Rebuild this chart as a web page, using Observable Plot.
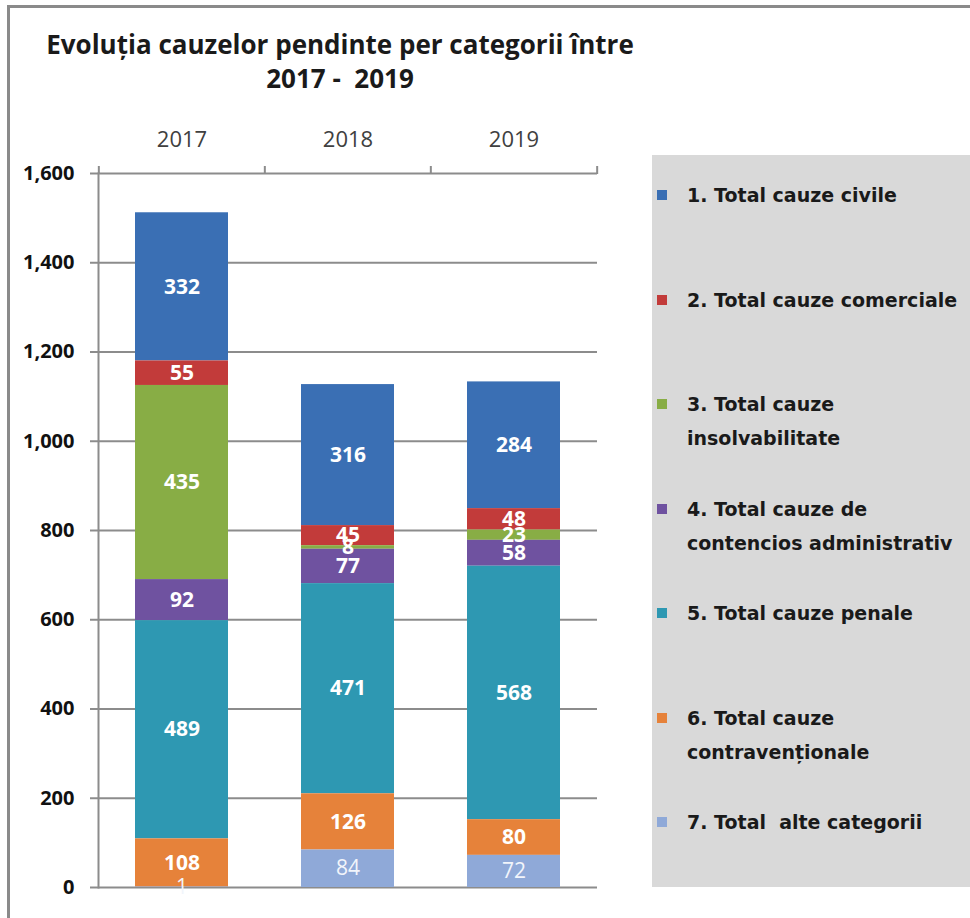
<!DOCTYPE html>
<html>
<head>
<meta charset="utf-8">
<script src="https://cdn.jsdelivr.net/npm/d3@7"></script>
<script src="https://cdn.jsdelivr.net/npm/@observablehq/plot@0.6"></script>
<style>
  html, body { margin: 0; padding: 0; background: #fff; }
  #wrap { position: relative; width: 970px; height: 918px; overflow: hidden; background: #fff; }
  #frame { position: absolute; left: 7px; top: 5px; width: 1000px; height: 1000px; border-left: 3px solid #8a8a8a; border-top: 3px solid #8a8a8a; box-sizing: border-box; pointer-events: none; }
  #title { position: absolute; left: 30px; width: 620px; top: 27px; text-align: center; font-family: "Open Sans", sans-serif; font-weight: 700; font-size: 26px; line-height: 34px; color: #1a1a1a; white-space: pre; }
  #chart { position: absolute; left: 0; top: 0; }
  #legend { position: absolute; left: 652px; top: 155px; width: 318px; height: 732px; background: #d9d9d9; box-sizing: border-box; padding-top: 23px; }
  .item { position: relative; height: 104.5px; font-family: "DejaVu Sans", sans-serif; font-weight: 700; font-size: 19px; line-height: 34px; color: #1a1a1a; padding-left: 35px; box-sizing: border-box; white-space: pre; }
  .sw { position: absolute; left: 5px; top: 12px; width: 10px; height: 10px; }
</style>
</head>
<body>
<div id="wrap">
  <div id="chart"></div>
  <div id="title"></div>
  <div id="legend"></div>
  <div id="frame"></div>
</div>
<script>
// ---- data ----
const years = ["2017", "2018", "2019"];
const categories = [
  "1. Total cauze civile",
  "2. Total cauze comerciale",
  "3. Total cauze insolvabilitate",
  "4. Total cauze de contencios administrativ",
  "5. Total cauze penale",
  "6. Total cauze contravenționale",
  "7. Total  alte categorii"
];
const legendLabels = [
  ["1. Total cauze civile"],
  ["2. Total cauze comerciale"],
  ["3. Total cauze", "insolvabilitate"],
  ["4. Total cauze de", "contencios administrativ"],
  ["5. Total cauze penale"],
  ["6. Total cauze", "contravenționale"],
  ["7. Total  alte categorii"]
];
const civile      = [332, 316, 284];
const comerciale  = [55, 45, 48];
const insolv      = [435, 8, 23];
const contencios  = [92, 77, 58];
const penale      = [489, 471, 568];
const contrav     = [108, 126, 80];
const alte        = [1, 84, 72];
const colors = ["#3a6fb4", "#c23b3a", "#88ad45", "#6f52a0", "#2e98b2", "#e6823a", "#8fa9d8"];
const yTicks = [0, 200, 400, 600, 800, 1000, 1200, 1400, 1600];
const titleLines = ["Evoluția cauzelor pendinte per categorii între", "2017 -  2019"];

// ---- build table ----
const seriesValues = [civile, comerciale, insolv, contencios, penale, contrav, alte];
const rows = [];
categories.forEach((c, i) => years.forEach((y, j) => rows.push({year: y, cat: c, value: seriesValues[i][j], idx: i})));
const stackOrder = categories.slice().reverse(); // bottom to top

// ---- layout ----
const W = 970, H = 918;
const mL = 98, mR = 373, mT = 173, mB = 31;
const step = (W - mL - mR) / years.length;
const font = "'Open Sans', sans-serif";
const stackOpts = {x: "year", y: "value", z: "cat", order: stackOrder};

const plot = Plot.plot({
  width: W, height: H,
  marginLeft: mL, marginRight: mR, marginTop: mT, marginBottom: mB,
  style: {fontFamily: font, background: "transparent", overflow: "visible"},
  x: {domain: years, paddingInner: 0.44, paddingOuter: 0.22},
  y: {domain: [0, 1600]},
  color: {domain: categories, range: colors},
  marks: [
    Plot.gridY(yTicks, {stroke: "#8c8c8c", strokeOpacity: 1, strokeWidth: 2}),
    Plot.barY(rows, Plot.stackY({...stackOpts, fill: "cat"})),
    Plot.text(rows, Plot.stackY({...stackOpts, text: d => d.idx === 6 ? "" : String(d.value),
      fill: "#ffffff", fontWeight: 700, fontSize: 21, fontFamily: font})),
    Plot.text(rows, Plot.stackY({...stackOpts, text: d => d.idx === 6 ? String(d.value) : "",
      fill: "#f2f5fb", fontWeight: 400, fontSize: 21, fontFamily: font})),
    Plot.axisY(yTicks, {tickSize: 8, tickPadding: 16, tickFormat: d3.format(","), fontSize: 20, fontWeight: 700, fill: "#111", stroke: "#8c8c8c", strokeWidth: 2, label: null}),
    Plot.axisX({anchor: "top", tickSize: 0, tickPadding: 27, fontSize: 22, fill: "#404040", label: null}),
    Plot.axisX(years, {anchor: "top", tickSize: 8, dx: -step / 2, tickFormat: () => "", stroke: "#8c8c8c", strokeWidth: 2, label: null}),
    Plot.axisX(years.slice(-1), {anchor: "top", tickSize: 8, dx: step / 2, tickFormat: () => "", stroke: "#8c8c8c", strokeWidth: 2, label: null}),
    Plot.frame({anchor: "left", stroke: "#8c8c8c", strokeWidth: 2})
  ]
});
document.getElementById("chart").appendChild(plot);

// title
const t = document.getElementById("title");
titleLines.forEach(l => { const d = document.createElement("div"); d.textContent = l; t.appendChild(d); });

// legend
const lg = document.getElementById("legend");
legendLabels.forEach((lines, i) => {
  const it = document.createElement("div");
  it.className = "item";
  const sw = document.createElement("span");
  sw.className = "sw"; sw.style.background = colors[i];
  it.appendChild(sw);
  lines.forEach(l => { const d = document.createElement("div"); d.textContent = l; it.appendChild(d); });
  lg.appendChild(it);
});
</script>
</body>
</html>
